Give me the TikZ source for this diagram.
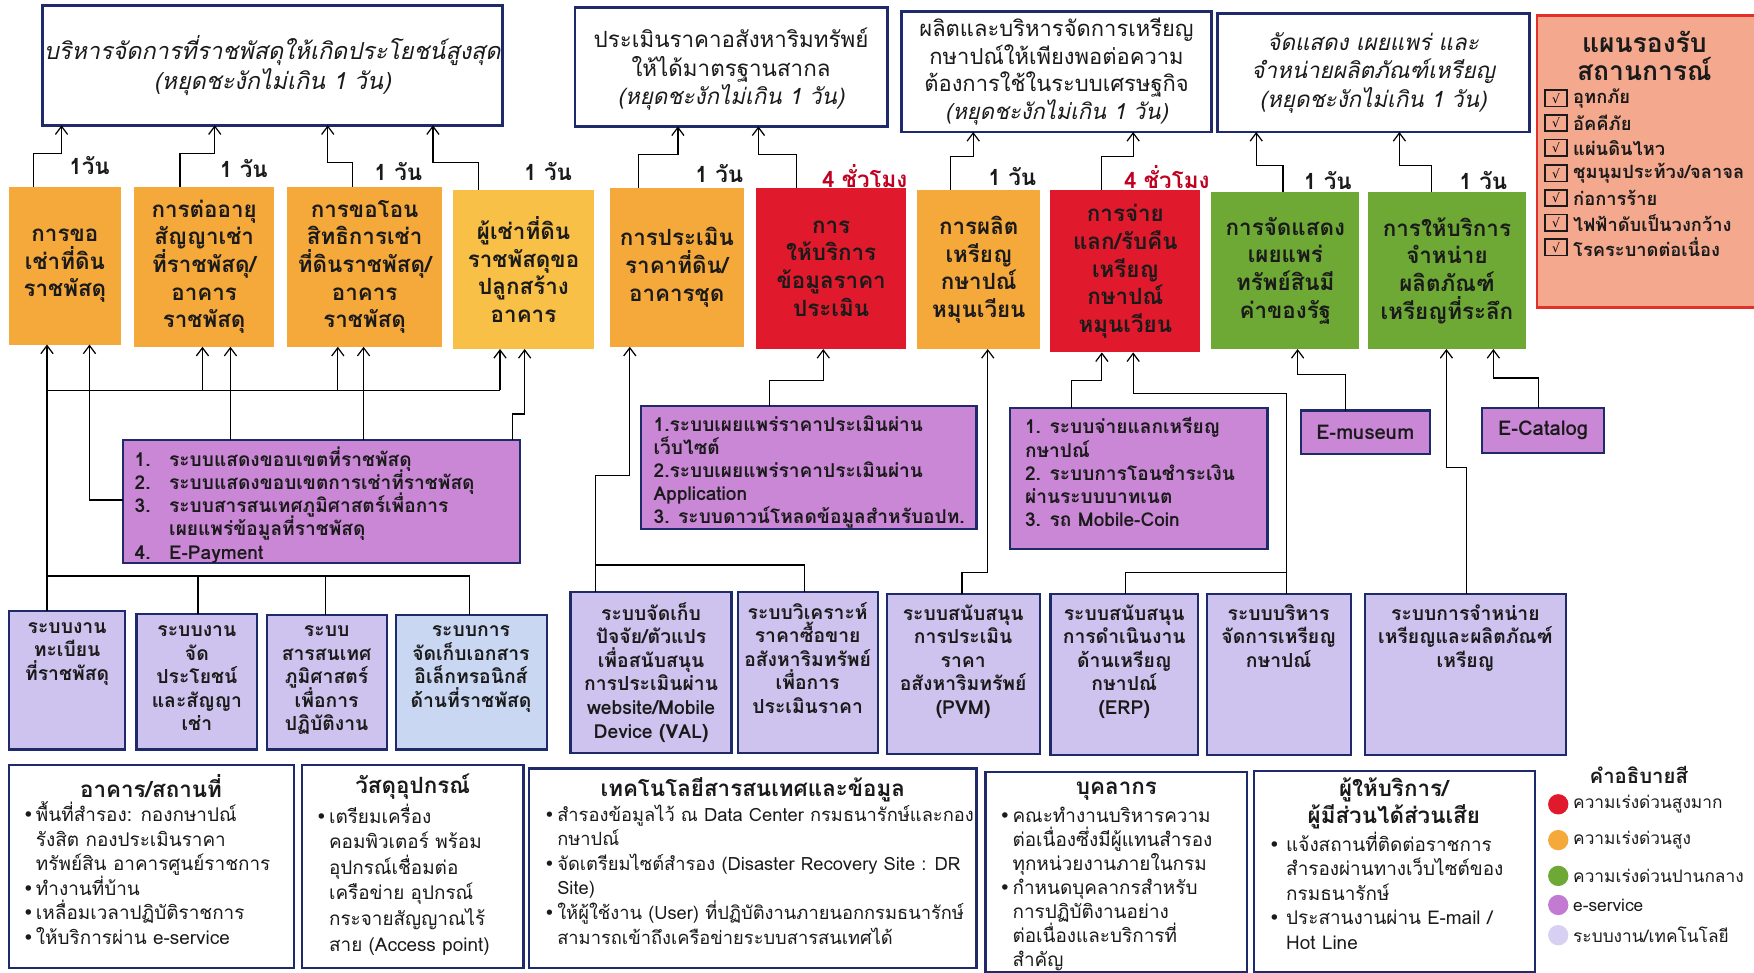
\documentclass[tikz,border=0pt]{standalone}
\usepackage{fontspec}
\setmainfont[Script=Thai]{Loma}
\newfontfamily\dejavu{DejaVu Sans}
\usetikzlibrary{fit,arrows.meta}
\definecolor{navy}{HTML}{1F2A6B}
\definecolor{orng}{HTML}{F6A93B}
\definecolor{yorng}{HTML}{F8C046}
\definecolor{redb}{HTML}{E01A2C}
\definecolor{grn}{HTML}{6EA835}
\definecolor{purp}{HTML}{C987D6}
\definecolor{lav}{HTML}{CDC3EE}
\definecolor{lavb}{HTML}{CAD7F2}
\definecolor{salmon}{HTML}{F4A98F}
\definecolor{redl}{HTML}{E4302A}
\definecolor{redt}{HTML}{C00020}
\definecolor{ink}{HTML}{1A1A1A}
\definecolor{lgpurp}{HTML}{C27BD0}
\definecolor{lglav}{HTML}{D8D0F2}
\newcommand\bulx{\makebox[6.5pt][l]{\dejavu\char"2022}}
\newcommand\bulw{\makebox[8.5pt][l]{\dejavu\char"2022}}
\newcommand\cind{\hspace*{6.5pt}}
\newcommand\tightlines{\lineskiplimit=-30pt\lineskip=0pt}
\begin{document}
\tightlines
\begin{tikzpicture}[x=0.55pt,y=-0.55pt,
 box/.style={inner sep=0pt,outer sep=0pt},
 goal/.style={box,draw=navy,line width=1.4pt,fill=white},
 proc/.style={box},
 ptxt/.style={align=center,font=\fontsize{11}{13.6}\selectfont\bfseries\tightlines,text=ink,inner sep=0pt},
 eserv/.style={box,draw=navy,line width=1.1pt,fill=purp},
 sysb/.style={box,draw=navy,line width=1.1pt,fill=lav},
 info/.style={box,draw=navy,line width=1.1pt,fill=white},
 stxt/.style={align=center,anchor=north,font=\fontsize{9.5}{11.6}\selectfont\bfseries\tightlines,text=ink,inner sep=0pt},
 ltxt/.style={align=left,anchor=north west,font=\fontsize{9.4}{11.4}\selectfont\bfseries\tightlines,text=ink,inner sep=0pt},
 btxt/.style={align=left,anchor=north west,font=\fontsize{9.3}{12.1}\selectfont\tightlines,text=ink,inner sep=0pt},
 ttl/.style={align=center,font=\fontsize{11}{13}\selectfont\bfseries\tightlines,text=ink,inner sep=0pt},
 gtxt/.style={align=center,font=\fontsize{11}{14.2}\selectfont\tightlines,text=ink,inner sep=0pt},
 lbl/.style={font=\fontsize{11}{13}\selectfont\bfseries,text=ink,inner sep=0pt},
 rlbl/.style={lbl,text=redt},
 chk/.style={draw=ink,line width=0.8pt,minimum width=11pt,minimum height=8pt,inner sep=0pt,font=\dejavu\fontsize{6}{6}\selectfont},
 itm/.style={anchor=west,font=\fontsize{9}{12}\selectfont\bfseries,text=ink,inner sep=0pt},
 dot/.style={circle,minimum size=10pt,inner sep=0pt},
 arr/.style={-{Straight Barb[length=4pt,width=6pt]},line width=0.6pt},
 ln/.style={line width=0.6pt},
]
\useasboundingbox (0,0) rectangle (1568,869);
\fill[white] (0,0) rectangle (1568,869);

% ---------- goals ----------
\node[goal,fit={(38,5)(449,112)}] (g1) {};
\node[gtxt,font=\fontsize{11.5}{14.8}\selectfont\itshape\tightlines] (g1t) at (g1.center) {บริหารจัดการที่ราชพัสดุให้เกิดประโยชน์สูงสุด\\(หยุดชะงักไม่เกิน 1 วัน)};
\node[goal,fit={(514,7)(793,113)}] (g2) {};
\node[gtxt] (g2t) at ([yshift=-1pt]g2.center) {ประเมินราคาอสังหาริมทรัพย์\\ให้ได้มาตรฐานสากล\\{\itshape (หยุดชะงักไม่เกิน 1 วัน)}};
\node[goal,fit={(806,10)(1083,118)}] (g3) {};
\node[gtxt,font=\fontsize{10.8}{13.6}\selectfont\tightlines] (g3t) at (g3.center) {ผลิตและบริหารจัดการเหรียญ\\กษาปณ์ให้เพียงพอต่อความ\\ต้องการใช้ในระบบเศรษฐกิจ\\{\itshape (หยุดชะงักไม่เกิน 1 วัน)}};
\node[goal,fit={(1088,12)(1367,118)}] (g4) {};
\node[gtxt,font=\fontsize{11}{14}\selectfont\itshape\tightlines] (g4t) at (g4.center) {จัดแสดง เผยแพร่ และ\\จำหน่ายผลิตภัณฑ์เหรียญ\\(หยุดชะงักไม่เกิน 1 วัน)};

% ---------- contingency plan box ----------
\node[box,draw=redl,line width=1.2pt,fill=salmon,fit={(1374,14)(1575,275)}] (plan) {};
\node[ttl,font=\fontsize{13}{13.4}\selectfont\bfseries\tightlines] (plant) at (1470,50) {แผนรองรับ\\สถานการณ์};
\foreach \i/\y/\t in {1/88/{อุทกภัย},2/110/{อัคคีภัย},3/132/{แผ่นดินไหว},4/155/{ชุมนุมประท้วง/จลาจล},5/177/{ก่อการร้าย},6/199/{ไฟฟ้าดับเป็นวงกว้าง},7/221/{โรคระบาดต่อเนื่อง}}{
  \node[chk] (ck\i) at (1391,\y) {√};
  \node[itm] (it\i) at (1406,\y) {\t};
}

% ---------- process boxes ----------
\node[proc,fill=orng,fit={(8,167)(108,308)}] (b1) {};
\node[ptxt] (b1t) at (b1.center) {การขอ\\เช่าที่ดิน\\ราชพัสดุ};
\node[proc,fill=orng,fit={(120,167)(245,310)}] (b2) {};
\node[ptxt] (b2t) at (b2.center) {การต่ออายุ\\สัญญาเช่า\\ที่ราชพัสดุ/\\อาคาร\\ราชพัสดุ};
\node[proc,fill=orng,fit={(257,167)(395,310)}] (b3) {};
\node[ptxt] (b3t) at (b3.center) {การขอโอน\\สิทธิการเช่า\\ที่ดินราชพัสดุ/\\อาคาร\\ราชพัสดุ};
\node[proc,fill=yorng,fit={(405,170)(531,312)}] (b4) {};
\node[ptxt] (b4t) at (b4.center) {ผู้เช่าที่ดิน\\ราชพัสดุขอ\\ปลูกสร้าง\\อาคาร};
\node[proc,fill=orng,fit={(545,168)(665,310)}] (b5) {};
\node[ptxt] (b5t) at (b5.center) {การประเมิน\\ราคาที่ดิน/\\อาคารชุด};
\node[proc,fill=redb,fit={(676,168)(810,312)}] (b6) {};
\node[ptxt] (b6t) at (b6.center) {การ\\ให้บริการ\\ข้อมูลราคา\\ประเมิน};
\node[proc,fill=orng,fit={(820,170)(930,312)}] (b7) {};
\node[ptxt] (b7t) at (b7.center) {การผลิต\\เหรียญ\\กษาปณ์\\หมุนเวียน};
\node[proc,fill=redb,fit={(939,170)(1073,315)}] (b8) {};
\node[ptxt] (b8t) at (b8.center) {การจ่าย\\แลก/รับคืน\\เหรียญ\\กษาปณ์\\หมุนเวียน};
\node[proc,fill=grn,fit={(1083,172)(1215,312)}] (b9) {};
\node[ptxt] (b9t) at (b9.center) {การจัดแสดง\\เผยแพร่\\ทรัพย์สินมี\\ค่าของรัฐ};
\node[proc,fill=grn,fit={(1223,172)(1364,312)}] (b10) {};
\node[ptxt] (b10t) at (b10.center) {การให้บริการ\\จำหน่าย\\ผลิตภัณฑ์\\เหรียญที่ระลึก};

% ---------- time labels ----------
\node[lbl] (l1) at (80,148) {1วัน};
\node[lbl] (l2) at (218,151) {1 วัน};
\node[lbl] (l3) at (356,153) {1 วัน};
\node[lbl] (l4) at (490,153) {1 วัน};
\node[lbl] (l5) at (643,155) {1 วัน};
\node[rlbl] (l6) at (773,157) {4 ชั่วโมง};
\node[lbl] (l7) at (905,158) {1 วัน};
\node[rlbl] (l8) at (1043,158) {4 ชั่วโมง};
\node[lbl] (l9) at (1187,161) {1 วัน};
\node[lbl] (l10) at (1326,161) {1 วัน};

% ---------- process -> goal ----------
\draw[arr] (30,0 |- b1.north) |- (55,137) -- (55,0 |- g1.south);
\draw[arr] (161,0 |- b2.north) |- (192,137) -- (192,0 |- g1.south);
\draw[arr] (315,0 |- b3.north) |- (293,145) -- (293,0 |- g1.south);
\draw[arr] (428,0 |- b4.north) |- (387,145) -- (387,0 |- g1.south);
\draw[arr] (571,0 |- b5.north) |- (606,138) -- (606,0 |- g2.south);
\draw[arr] (712,0 |- b6.north) |- (678,138) -- (678,0 |- g2.south);
\draw[arr] (850,0 |- b7.north) |- (870,140) -- (870,0 |- g3.south);
\draw[arr] (985,0 |- b8.north) |- (1013,140) -- (1013,0 |- g3.south);
\draw[arr] (1147,0 |- b9.north) |- (1123,148) -- (1123,0 |- g4.south);
\draw[arr] (1280,0 |- b10.north) |- (1251,148) -- (1251,0 |- g4.south);

% ---------- e-service boxes ----------
\node[eserv,fit={(110,393)(465,503)}] (p1) {};
\node[ltxt] (p1t) at (120,399) {\makebox[17pt][l]{1.}ระบบแสดงขอบเขตที่ราชพัสดุ\\
\makebox[17pt][l]{2.}ระบบแสดงขอบเขตการเช่าที่ราชพัสดุ\\
\makebox[17pt][l]{3.}ระบบสารสนเทศภูมิศาสตร์เพื่อการ\\
\hspace*{17pt}เผยแพร่ข้อมูลที่ราชพัสดุ\\
\makebox[17pt][l]{4.}E-Payment};
\node[eserv,fit={(573,363)(873,473)}] (p2) {};
\node[ltxt] (p2t) at (584,371) {1.ระบบเผยแพร่ราคาประเมินผ่าน\\เว็บไซต์\\2.ระบบเผยแพร่ราคาประเมินผ่าน\\Application\\3. ระบบดาวน์โหลดข้อมูลสำหรับอปท.};
\node[eserv,fit={(903,365)(1133,491)}] (p3) {};
\node[ltxt] (p3t) at (916,373) {1. ระบบจ่ายแลกเหรียญ\\กษาปณ์\\2. ระบบการโอนชำระเงิน\\ผ่านระบบบาทเนต\\3. รถ Mobile-Coin};
\node[eserv,fit={(1163,367)(1278,406)}] (pm) {};
\node[ptxt,font=\fontsize{10}{12}\selectfont\bfseries] (pmt) at (pm.center) {E-museum};
\node[eserv,fit={(1325,365)(1434,405)}] (pc) {};
\node[ptxt,font=\fontsize{10}{12}\selectfont\bfseries] (pct) at (pc.center) {E-Catalog};

% ---------- system boxes ----------
\node[sysb,fit={(8,546)(112,670)}] (s1) {};
\node[stxt] (s1t) at (60,556) {ระบบงาน\\ทะเบียน\\ที่ราชพัสดุ};
\node[sysb,fit={(122,549)(230,670)}] (s2) {};
\node[stxt] (s2t) at (176,559) {ระบบงาน\\จัด\\ประโยชน์\\และสัญญา\\เช่า};
\node[sysb,fit={(239,550)(346,670)}] (s3) {};
\node[stxt] (s3t) at (292,559) {ระบบ\\สารสนเทศ\\ภูมิศาสตร์\\เพื่อการ\\ปฏิบัติงาน};
\node[sysb,fill=lavb,fit={(354,550)(489,670)}] (s4) {};
\node[stxt] (s4t) at (421,559) {ระบบการ\\จัดเก็บเอกสาร\\อิเล็กทรอนิกส์\\ด้านที่ราชพัสดุ};
\node[sysb,fit={(510,529)(654,673)}] (s5) {};
\node[stxt] (s5t) at (582,538) {ระบบจัดเก็บ\\ปัจจัย/ตัวแปร\\เพื่อสนับสนุน\\การประเมินผ่าน\\website/Mobile\\Device (VAL)};
\node[sysb,fit={(660,529)(785,673)}] (s6) {};
\node[stxt] (s6t) at (722,538) {ระบบวิเคราะห์\\ราคาซื้อขาย\\อสังหาริมทรัพย์\\เพื่อการ\\ประเมินราคา};
\node[sysb,fit={(793,531)(930,674)}] (s7) {};
\node[stxt] (s7t) at (861,540) {ระบบสนับสนุน\\การประเมิน\\ราคา\\อสังหาริมทรัพย์\\(PVM)};
\node[sysb,fit={(939,531)(1071,675)}] (s8) {};
\node[stxt] (s8t) at (1005,540) {ระบบสนับสนุน\\การดำเนินงาน\\ด้านเหรียญ\\กษาปณ์\\(ERP)};
\node[sysb,fit={(1079,531)(1208,675)}] (s9) {};
\node[stxt] (s9t) at (1143,540) {ระบบบริหาร\\จัดการเหรียญ\\กษาปณ์};
\node[sysb,fit={(1220,531)(1400,675)}] (s10) {};
\node[stxt] (s10t) at (1310,540) {ระบบการจำหน่าย\\เหรียญและผลิตภัณฑ์\\เหรียญ};

% ---------- lower connectors: left group ----------
\draw[arr] (42,0 |- s1.north) -- (42,0 |- b1.south);
\draw[ln] (42,515) -| (177,0 |- s2.north);
\draw[ln] (177,515) -| (291,0 |- s3.north);
\draw[ln] (291,515) -| (420,0 |- s4.north);
\draw[ln] (42,349) -- (447,349);
\draw[arr] (181,349) -- (181,0 |- b2.south);
\draw[arr] (302,349) -- (302,0 |- b3.south);
\draw[arr] (447,349) -- (447,0 |- b4.south);
\draw[arr] (p1.west |- 0,447) -| (80,0 |- b1.south);
\draw[arr] (206,0 |- p1.north) -- (206,0 |- b2.south);
\draw[arr] (325,0 |- p1.north) -- (325,0 |- b3.south);
\draw[arr] (458,0 |- p1.north) |- (469,370) -- (469,0 |- b4.south);

% ---------- lower connectors: middle group ----------
\draw[arr] (532,0 |- s5.north) |- (563,425) -- (563,0 |- b5.south);
\draw[ln] (719,0 |- s6.north) |- (532,505);
\draw[arr] (688,0 |- p2.north) |- (736,340) -- (736,0 |- b6.south);
\draw[arr] (860,0 |- s7.north) |- (883,512) -- (883,0 |- b7.south);
\draw[arr] (958,0 |- p3.north) |- (985,340) -- (985,0 |- b8.south);
\draw[arr] (1150,0 |- s9.north) |- (1013,352) -- (1013,0 |- b8.south);
\draw[ln] (1006,0 |- s8.north) |- (1150,512);

% ---------- lower connectors: right group ----------
\draw[arr] (1203,0 |- pm.north) |- (1160,335) -- (1160,0 |- b9.south);
\draw[arr] (1311,0 |- s10.north) |- (1293,418) -- (1293,0 |- b10.south);
\draw[arr] (1375,0 |- pc.north) |- (1335,338) -- (1335,0 |- b10.south);

% ---------- bottom info boxes ----------
\node[info,fit={(8,684)(263,865)}] (t1) {};
\node[ttl] (t1h) at (135,703) {อาคาร/สถานที่};
\node[btxt] (t1t) at (20,716) {\bulx พื้นที่สำรอง: กองกษาปณ์\\\cind รังสิต กองประเมินราคา\\\cind ทรัพย์สิน อาคารศูนย์ราชการ\\\bulx ทำงานที่บ้าน\\\bulx เหลื่อมเวลาปฏิบัติราชการ\\\bulx ให้บริการผ่าน e-service};
\node[info,fit={(270,684)(468,865)}] (t2) {};
\node[ttl] (t2h) at (369,703) {วัสดุอุปกรณ์};
\node[btxt,font=\fontsize{9.3}{12.6}\selectfont\tightlines] (t2t) at (282,718) {\bulx เตรียมเครื่อง\\\cind คอมพิวเตอร์ พร้อม\\\cind อุปกรณ์เชื่อมต่อ\\\cind เครือข่าย อุปกรณ์\\\cind กระจายสัญญาณไร้\\\cind สาย (Access point)};
\node[info,fit={(473,687)(873,865)}] (t3) {};
\node[ttl] (t3h) at (673,706) {เทคโนโลยีสารสนเทศและข้อมูล};
\node[btxt,font=\fontsize{9}{12.1}\selectfont\tightlines] (t3t) at (486,719) {\bulx สำรองข้อมูลไว้ ณ Data Center กรมธนารักษ์และกอง\\\cind กษาปณ์\\\bulx จัดเตรียมไซต์สำรอง (Disaster Recovery Site : DR\\\cind Site)\\\bulx ให้ผู้ใช้งาน (User) ที่ปฏิบัติงานภายนอกกรมธนารักษ์\\\cind สามารถเข้าถึงเครือข่ายระบบสารสนเทศได้};
\node[info,fit={(881,690)(1115,869)}] (t4) {};
\node[ttl] (t4h) at (998,707) {บุคลากร};
\node[btxt,font=\fontsize{9.3}{11.8}\selectfont\tightlines] (t4t) at (893,721) {\bulx คณะทำงานบริหารความ\\\cind ต่อเนื่องซึ่งมีผู้แทนสำรอง\\\cind ทุกหน่วยงานภายในกรม\\\bulx กำหนดบุคลากรสำหรับ\\\cind การปฏิบัติงานอย่าง\\\cind ต่อเนื่องและบริการที่\\\cind สำคัญ};
\node[info,fit={(1121,689)(1372,869)}] (t5) {};
\node[ttl] (t5h) at (1246,718) {ผู้ให้บริการ/\\ผู้มีส่วนได้ส่วนเสีย};
\node[btxt] (t5t) at (1134,743) {\bulw แจ้งสถานที่ติดต่อราชการ\\\hspace*{8.5pt}สำรองผ่านทางเว็บไซต์ของ\\\hspace*{8.5pt}กรมธนารักษ์\\\bulw ประสานงานผ่าน E-mail /\\\hspace*{8.5pt}Hot Line};

% ---------- colour legend ----------
\node[ttl,font=\fontsize{10}{12}\selectfont\bfseries] (lgt) at (1465,693) {คำอธิบายสี};
\foreach \i/\y/\c/\t in {1/719/redb/{ความเร่งด่วนสูงมาก},2/751/orng/{ความเร่งด่วนสูง},3/783/grn/{ความเร่งด่วนปานกลาง},4/809/lgpurp/{e-service},5/836/lglav/{ระบบงาน/เทคโนโลยี}}{
  \node[dot,fill=\c] (lg\i) at (1393,\y) {};
  \node[itm,font=\fontsize{8.5}{12}\selectfont] (lgx\i) at (1406,\y) {\t};
}
\end{tikzpicture}
\end{document}
